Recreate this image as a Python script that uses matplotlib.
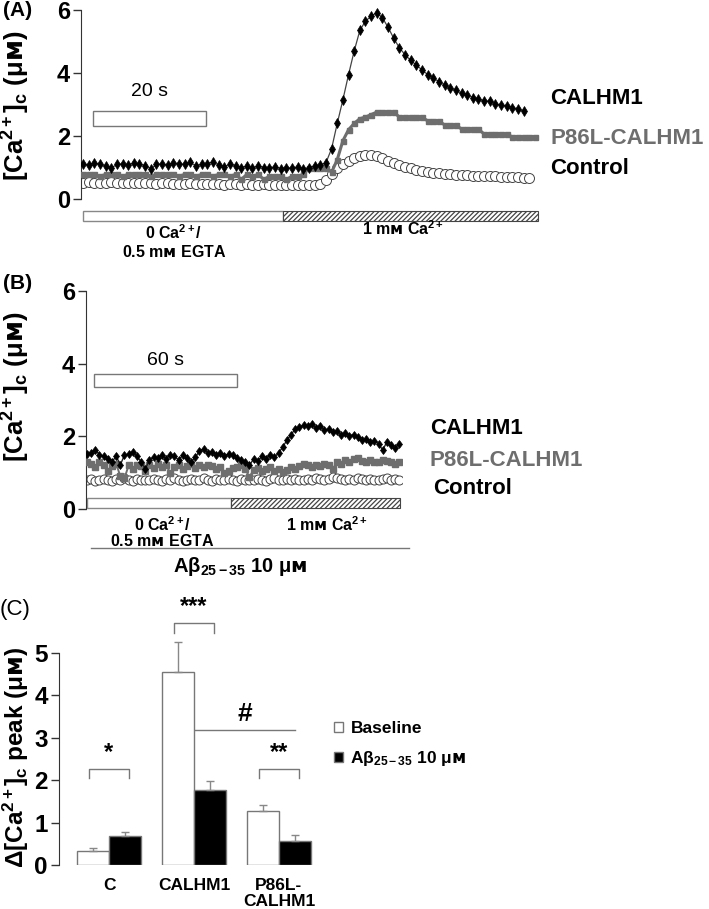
import numpy as np
import matplotlib
matplotlib.use("Agg")
import matplotlib.pyplot as plt
from matplotlib.patches import Rectangle, Patch
from matplotlib.lines import Line2D
from matplotlib import font_manager, ft2font

W, H = 709, 909

# ---------------- Panel A: [Ca2+]c traces, one sample per second ----------------
A_DT = 1.0
a_calhm1 = [1.12, 1.08, 1.15, 1.10, 1.05, 0.98, 1.10, 1.12, 1.08, 1.14,
            1.10, 1.06, 0.96, 1.10, 1.12, 1.08, 1.15, 1.12, 1.10, 1.16,
            1.05, 1.10, 1.12, 1.18, 1.08, 1.02, 1.10, 1.06, 1.00, 1.04,
            0.98, 1.05, 1.00, 0.98, 1.03, 0.96, 1.00, 0.98, 1.02, 0.95,
            1.00, 1.05, 1.08, 1.15, 1.60, 2.40, 3.15, 3.95, 4.70, 5.35,
            5.65, 5.80, 5.92, 5.75, 5.45, 5.10, 4.80, 4.58, 4.40, 4.25,
            4.10, 3.95, 3.85, 3.72, 3.62, 3.52, 3.45, 3.36, 3.30, 3.22,
            3.18, 3.10, 3.12, 3.02, 2.98, 2.96, 2.90, 2.86, 2.78]
a_p86l = [0.78, 0.78, 0.78, 0.72, 0.78, 0.78, 0.78, 0.72, 0.78, 0.78,
          0.78, 0.78, 0.72, 0.78, 0.78, 0.78, 0.78, 0.72, 0.78, 0.78,
          0.72, 0.78, 0.78, 0.72, 0.78, 0.78, 0.72, 0.78, 0.62, 0.78,
          0.72, 0.78, 0.62, 0.72, 0.72, 0.72, 0.62, 0.72, 0.72, 0.78,
          0.98, 0.98, 0.98, 0.98, 0.85, 1.25, 1.85, 2.20, 2.40, 2.55,
          2.60, 2.68, 2.76, 2.76, 2.76, 2.76, 2.60, 2.60, 2.60, 2.60,
          2.60, 2.48, 2.48, 2.48, 2.35, 2.35, 2.35, 2.22, 2.22, 2.22,
          2.22, 2.06, 2.06, 2.06, 2.06, 2.06, 1.97, 1.97, 1.97, 1.97,
          1.97]
a_control = [0.52, 0.53, 0.52, 0.51, 0.52, 0.53, 0.51, 0.52, 0.52, 0.50,
             0.51, 0.52, 0.50, 0.49, 0.51, 0.50, 0.49, 0.48, 0.49, 0.50,
             0.48, 0.47, 0.49, 0.48, 0.47, 0.46, 0.48, 0.47, 0.45, 0.47,
             0.46, 0.45, 0.47, 0.46, 0.45, 0.44, 0.46, 0.45, 0.44, 0.45,
             0.44, 0.45, 0.48, 0.60, 0.80, 0.98, 1.12, 1.22, 1.30, 1.36,
             1.40, 1.40, 1.36, 1.30, 1.22, 1.15, 1.08, 1.02, 0.97, 0.93,
             0.89, 0.86, 0.83, 0.81, 0.79, 0.78, 0.77, 0.76, 0.75, 0.74,
             0.74, 0.73, 0.72, 0.72, 0.71, 0.70, 0.70, 0.69, 0.68, 0.67]
a_ca_on, a_ca_end = 35.4, 80.5        # s, solution change / end of recording

# ---------------- Panel B: traces with Abeta25-35 ----------------
B_DT = 1.75
b_calhm1 = [1.52, 1.55, 1.62, 1.50, 1.45, 1.38, 1.30, 1.45, 1.22, 1.48,
            1.52, 1.58, 1.45, 1.30, 1.10, 1.35, 1.42, 1.40, 1.48, 1.38,
            1.50, 1.45, 1.35, 1.48, 1.40, 1.30, 1.42, 1.60, 1.65, 1.55,
            1.58, 1.50, 1.55, 1.45, 1.52, 1.48, 1.40, 1.35, 1.28, 1.20,
            1.38, 1.32, 1.45, 1.38, 1.50, 1.42, 1.55, 1.70, 1.90, 2.05,
            2.20, 2.25, 2.30, 2.28, 2.35, 2.22, 2.28, 2.18, 2.20, 2.12,
            2.15, 2.05, 2.10, 2.02, 2.05, 1.98, 1.90, 1.92, 1.85, 1.88,
            1.80, 1.62, 1.85, 1.75, 1.68, 1.80]
b_p86l = [1.30, 1.25, 1.15, 1.28, 1.20, 1.05, 1.18, 1.25, 0.90, 0.85,
          1.20, 1.10, 1.22, 1.18, 1.05, 1.20, 1.12, 1.25, 1.15, 1.20,
          1.00, 1.15, 1.22, 1.10, 1.18, 1.25, 1.12, 1.20, 1.15, 1.22,
          1.18, 1.10, 1.15, 0.98, 1.05, 1.12, 1.15, 1.20, 1.10, 0.88,
          1.08, 1.12, 1.05, 1.10, 1.15, 1.05, 1.10, 1.02, 1.08, 1.15,
          1.10, 1.18, 1.25, 1.20, 1.15, 1.22, 1.18, 1.25, 1.20, 1.10,
          1.28, 1.25, 1.35, 1.30, 1.38, 1.40, 1.32, 1.30, 1.35, 1.30,
          1.28, 1.35, 1.32, 1.30, 1.25, 1.30]
b_control = [0.80, 0.82, 0.78, 0.80, 0.83, 0.80, 0.78, 0.82, 0.80, 0.85,
             0.80, 0.78, 0.82, 0.80, 0.79, 0.81, 0.83, 0.80, 0.78, 0.82,
             0.80, 0.84, 0.80, 0.78, 0.80, 0.82, 0.79, 0.81, 0.86, 0.80,
             0.78, 0.82, 0.80, 0.79, 0.83, 0.80, 0.78, 0.82, 0.80, 0.81,
             0.79, 0.83, 0.80, 0.78, 0.82, 0.84, 0.80, 0.79, 0.82, 0.80,
             0.83, 0.81, 0.79, 0.82, 0.80, 0.85, 0.82, 0.80, 0.83, 0.88,
             0.84, 0.82, 0.80, 0.83, 0.81, 0.84, 0.82, 0.80, 0.83, 0.81,
             0.79, 0.82, 0.84, 0.80, 0.82, 0.81]
b_ca_on, b_ca_end = 60.5, 131.5

# ---------------- Panel C: peak amplitudes ----------------
groups = ["C", "CALHM1", "P86L-\nCALHM1"]
baseline_mean = [0.32, 4.56, 1.28]
baseline_err = [0.09, 0.69, 0.14]
abeta_mean = [0.68, 1.77, 0.57]
abeta_err = [0.10, 0.21, 0.13]

GRAY = "#6e6e6e"


def small_cap_m():
    path = font_manager.findfont(font_manager.FontProperties(family="DejaVu Sans", weight="bold"))
    return "\u1d0d" if 0x1D0D in ft2font.FT2Font(path).get_charmap() else "M"


SM = small_cap_m()
UM = r"$\mu$" + SM                      # micromolar with small-cap M
MM = r"$m$" + SM                        # millimolar


def rect(left, top, right, bottom):
    return [left / W, 1 - bottom / H, (right - left) / W, (bottom - top) / H]


def ftext(fig, x, y, s, **kw):
    kw.setdefault("ha", "center")
    kw.setdefault("va", "center")
    return fig.text(x / W, 1 - y / H, s, **kw)


def style_trace_axes(ax):
    for side in ["top", "right", "bottom"]:
        ax.spines[side].set_visible(False)
    ax.spines["left"].set_bounds(0, 6)
    ax.spines["left"].set_color("#333333")
    ax.set_xticks([])
    ax.set_yticks([0, 2, 4, 6])
    ax.tick_params(axis="y", length=6, width=1, color="#333333", pad=2, labelsize=17)
    for lab in ax.get_yticklabels():
        lab.set_fontweight("bold")


def stim_bar(ax, t_on, t_end, y0, y1):
    ax.add_patch(Rectangle((0, y0), t_on, y1 - y0, facecolor="white",
                           edgecolor="#888888", lw=1))
    ax.add_patch(Rectangle((t_on, y0), t_end - t_on, y1 - y0, facecolor="white",
                           edgecolor="#444444", lw=0.8, hatch="/" * 7))


def plot_traces(ax, dt, calhm1, p86l, control, small=False):
    ax.plot(np.arange(len(control)) * dt, control, ls="none", marker="o",
            ms=6.5 if small else 7.2, mfc="white", mec="#444444", mew=0.7, zorder=2)
    ax.plot(np.arange(len(p86l)) * dt, p86l, color=GRAY, lw=1.4 if small else 2.2,
            marker="s", ms=4.5 if small else 3.6, mec=GRAY, zorder=3)
    ax.plot(np.arange(len(calhm1)) * dt, calhm1, color="#222222" if small else "#444444",
            lw=1.0 if small else 0.9, marker="d", ms=4.5 if small else 5.5,
            mfc="black", mec="black", mew=0.5, zorder=4)


def panel_a(fig):
    ax = fig.add_axes(rect(81.3, 3.7, 540.65, 230.5))
    ax.set_xlim(-0.3, 81.0)
    ax.set_ylim(-1.0, 6.2)
    style_trace_axes(ax)
    plot_traces(ax, A_DT, a_calhm1, a_p86l, a_control)
    # 20 s scale bar
    ax.add_patch(Rectangle((1.77, 2.32), 20, 0.47, facecolor="white", edgecolor="#777777", lw=1))
    ax.text(11.77, 3.4, "20 s", ha="center", va="center", fontsize=14)
    stim_bar(ax, a_ca_on, a_ca_end, -0.70, -0.38)

    ftext(fig, 18, 11, "(A)", fontsize=15, fontweight="bold")
    ftext(fig, 16, 106, r"$[Ca^{2+}]_c\ ($" + UM + r"$)$", rotation=90,
          fontsize=18.5, family="DejaVu Sans", fontweight="bold")
    ftext(fig, 174, 233, r"$0\ Ca^{2+}/$", fontsize=11.5)
    ftext(fig, 174, 252, r"$0.5\ $" + MM + r"$\ EGTA$", fontsize=11.5,
          family="DejaVu Sans", fontweight="bold")
    ftext(fig, 403, 229, r"$1\ $" + MM + r"$\ Ca^{2+}$", fontsize=11.5,
          family="DejaVu Sans", fontweight="bold")
    ftext(fig, 550, 98, "CALHM1", ha="left", fontsize=16, fontweight="bold")
    ftext(fig, 550, 138, "P86L-CALHM1", ha="left", fontsize=16, fontweight="bold", color=GRAY)
    ftext(fig, 550, 168, "Control", ha="left", fontsize=16, fontweight="bold")


def panel_b(fig):
    ax = fig.add_axes(rect(86.05, 283.8, 402.35, 521.7))
    ax.set_xlim(-0.4, 132.5)
    ax.set_ylim(-0.35, 6.2)
    style_trace_axes(ax)
    plot_traces(ax, B_DT, b_calhm1, b_p86l, b_control, small=True)
    # 60 s scale bar
    ax.add_patch(Rectangle((2.9, 3.36), 60, 0.36, facecolor="white", edgecolor="#777777", lw=1))
    ax.text(32.9, 4.1, "60 s", ha="center", va="center", fontsize=14)
    stim_bar(ax, b_ca_on, b_ca_end, 0.03, 0.30)

    ftext(fig, 18, 284, "(B)", fontsize=15, fontweight="bold")
    ftext(fig, 16, 387, r"$[Ca^{2+}]_c\ ($" + UM + r"$)$", rotation=90,
          fontsize=18.5, family="DejaVu Sans", fontweight="bold")
    ftext(fig, 163, 525, r"$0\ Ca^{2+}/$", fontsize=11.5)
    ftext(fig, 162, 541, r"$0.5\ $" + MM + r"$\ EGTA$", fontsize=11.5,
          family="DejaVu Sans", fontweight="bold")
    ftext(fig, 327, 525, r"$1\ $" + MM + r"$\ Ca^{2+}$", fontsize=11.5,
          family="DejaVu Sans", fontweight="bold")
    fig.add_artist(Line2D([91 / W, 409 / W], [1 - 548 / H, 1 - 548 / H],
                          color="#777777", lw=1))
    ftext(fig, 240, 566, r"$A\beta_{25-35}\ 10\ $" + UM, fontsize=14.5,
          family="DejaVu Sans", fontweight="bold")
    ftext(fig, 430, 428, "CALHM1", ha="left", fontsize=16, fontweight="bold")
    ftext(fig, 430, 460, "P86L-CALHM1", ha="left", fontsize=16, fontweight="bold", color=GRAY)
    ftext(fig, 433, 489, "Control", ha="left", fontsize=16, fontweight="bold")


def bracket(ax, x0, x1, y, drop, label):
    ax.plot([x0, x0, x1, x1], [y - drop, y, y, y - drop], color="#777777", lw=1)
    ax.text((x0 + x1) / 2, y + 0.12, label, ha="center", va="bottom",
            fontsize=17, fontweight="bold")


def panel_c(fig):
    ax = fig.add_axes(rect(58.85, 597.9, 321.5, 865))
    x = np.arange(len(groups))
    bw = 0.376
    zeros = np.zeros(len(groups))
    ax.bar(x - bw / 2, baseline_mean, bw, color="white", edgecolor="#777777", lw=1,
           label="Baseline")
    ax.bar(x + bw / 2, abeta_mean, bw, color="black", edgecolor="#777777", lw=1,
           label=r"$A\beta_{25-35}\ 10\ $" + UM)
    ax.errorbar(x - bw / 2, baseline_mean, yerr=[zeros, baseline_err], fmt="none",
                ecolor="#888888", elinewidth=1, capsize=3, capthick=1)
    ax.errorbar(x + bw / 2, abeta_mean, yerr=[zeros, abeta_err], fmt="none",
                ecolor="#888888", elinewidth=1, capsize=3, capthick=1)

    ax.set_xlim(-0.59, 2.5)
    ax.set_ylim(0, 6.3)
    for side in ["top", "right", "bottom"]:
        ax.spines[side].set_visible(False)
    ax.spines["left"].set_bounds(0, 5)
    ax.spines["left"].set_color("#333333")
    ax.set_yticks(range(6))
    ax.tick_params(axis="y", length=6, width=1, color="#333333", pad=2, labelsize=17.5)
    for lab in ax.get_yticklabels():
        lab.set_fontweight("bold")
    ax.set_xticks(x)
    ax.set_xticklabels(groups, fontsize=12.5, fontweight="bold", linespacing=1.15)
    ax.tick_params(axis="x", length=0, pad=9)

    bracket(ax, x[0] - 0.235, x[0] + 0.235, 2.26, 0.21, "*")
    bracket(ax, x[1] - 0.235, x[1] + 0.235, 5.71, 0.24, "***")
    bracket(ax, x[2] - 0.235, x[2] + 0.235, 2.26, 0.21, "**")
    ax.plot([x[1] + 0.01, x[2] + 0.19], [3.18, 3.18], color="#777777", lw=1)
    ax.text((x[1] + x[2]) / 2 + 0.1, 3.28, "#", ha="center", va="bottom",
            fontsize=19, fontweight="bold")

    handles = [Patch(facecolor="white", edgecolor="#777777"),
               Patch(facecolor="black", edgecolor="#777777")]
    labels = ["Baseline", r"$A\beta_{25-35}\ 10\ $" + UM]
    leg = ax.legend(handles, labels, loc="upper left",
                    bbox_to_anchor=(334 / W, 1 - 721 / H), bbox_transform=fig.transFigure,
                    frameon=False, handlelength=0.5, handleheight=0.5, handletextpad=0.45,
                    borderpad=0, borderaxespad=0, labelspacing=0.75,
                    prop={"weight": "bold", "size": 12.5})
    leg.get_texts()[1].set_fontfamily("DejaVu Sans")

    ftext(fig, 15, 609, "(C)", fontsize=16)
    ftext(fig, 16, 757, r"$\Delta[Ca^{2+}]_c\ peak\ ($" + UM + r"$)$", rotation=90,
          fontsize=17.5, family="DejaVu Sans", fontweight="bold")


def main():
    plt.rcParams["font.family"] = ["Liberation Sans", "DejaVu Sans"]
    plt.rcParams["mathtext.fontset"] = "custom"
    plt.rcParams["mathtext.rm"] = "Liberation Sans"
    plt.rcParams["mathtext.it"] = "Liberation Sans:italic"
    plt.rcParams["mathtext.bf"] = "Liberation Sans:bold"
    plt.rcParams["mathtext.default"] = "bf"
    plt.rcParams["hatch.linewidth"] = 0.9

    fig = plt.figure(figsize=(W / 100, H / 100), dpi=100)
    panel_a(fig)
    panel_b(fig)
    panel_c(fig)
    fig.savefig("out.png", dpi=100)


if __name__ == "__main__":
    main()
